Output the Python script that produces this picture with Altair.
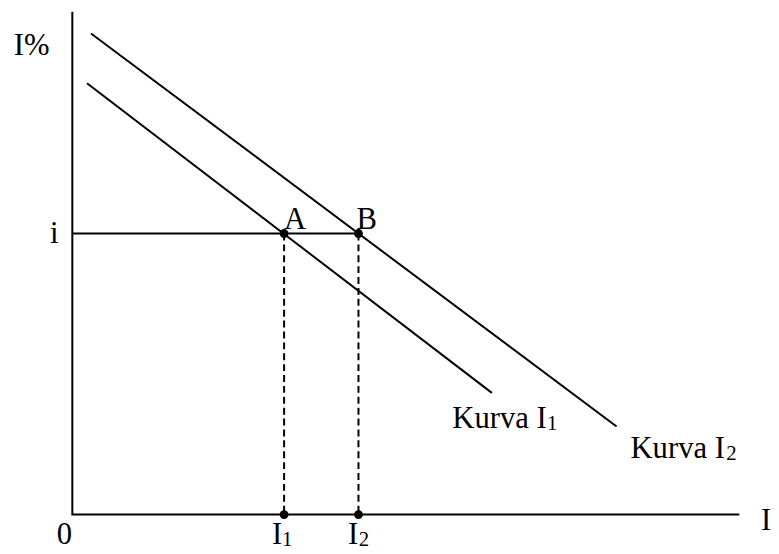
import altair as alt
import pandas as pd

# ---- data (chart units) ----
axis_max_x = 100
axis_max_y = 100
curve1_x = [2.2, 62.9]      # Kurva I1
curve1_y = [85.8, 24.2]
curve2_x = [2.8, 81.6]      # Kurva I2
curve2_y = [95.7, 17.5]
rate_i = 55.9               # interest level i
inv_levels = [31.75, 42.9]  # I1, I2
point_names = ["A", "B"]
inv_names = [("I", "1"), ("I", "2")]
curve_names = [("Kurva I", "1"), ("Kurva I", "2")]

FONT = "Liberation Serif"
FS = 31
SUB = 21
W, H = 771, 546

x_scale = alt.Scale(domain=[-9.644, 104.748], nice=False, zero=False)
y_scale = alt.Scale(domain=[-7.283, 100.197], nice=False, zero=False)


def enc(ch):
    return ch.encode(
        x=alt.X("x:Q", scale=x_scale, axis=None),
        y=alt.Y("y:Q", scale=y_scale, axis=None),
    )


layers = []

# axes
axes_df = pd.DataFrame({"x": [0, 0, axis_max_x], "y": [axis_max_y, 0, 0], "o": [0, 1, 2]})
layers.append(enc(alt.Chart(axes_df).mark_line(color="black", strokeWidth=2)).encode(order="o:Q"))

# demand curves
curves_df = pd.DataFrame({
    "x": curve1_x + curve2_x,
    "y": curve1_y + curve2_y,
    "seg": ["c1", "c1", "c2", "c2"],
    "o": [0, 1, 0, 1],
})
layers.append(enc(alt.Chart(curves_df).mark_line(color="black", strokeWidth=2)).encode(
    detail="seg:N", order="o:Q"))

# horizontal line at i
h_df = pd.DataFrame({"x": [0, inv_levels[1]], "y": [rate_i, rate_i], "o": [0, 1]})
layers.append(enc(alt.Chart(h_df).mark_line(color="black", strokeWidth=2)).encode(order="o:Q"))

# dashed verticals
v_df = pd.DataFrame({
    "x": [inv_levels[0], inv_levels[0], inv_levels[1], inv_levels[1]],
    "y": [rate_i, 0, rate_i, 0],
    "seg": ["v1", "v1", "v2", "v2"],
    "o": [0, 1, 0, 1],
})
layers.append(enc(alt.Chart(v_df).mark_line(color="black", strokeWidth=2, strokeDash=[7, 4])).encode(
    detail="seg:N", order="o:Q"))

# dots
pts_df = pd.DataFrame({
    "x": inv_levels + inv_levels,
    "y": [rate_i, rate_i, 0, 0],
})
layers.append(enc(alt.Chart(pts_df).mark_circle(color="black", size=80, opacity=1)))


def label(x, y, text, dx, dy, size=FS, align="left"):
    df = pd.DataFrame({"x": [x], "y": [y], "t": [text]})
    return enc(alt.Chart(df).mark_text(
        font=FONT, fontSize=size, color="black", align=align, baseline="alphabetic",
        dx=dx, dy=dy)).encode(text="t:N")


# axis labels
layers.append(label(0, axis_max_y, "I%", -23, 44, align="right"))
layers.append(label(0, rate_i, "i", -14, 10, align="right"))
layers.append(label(0, 0, "0", -8, 30, align="center"))
layers.append(label(axis_max_x, 0, "I", 22, 16))

# point labels
layers.append(label(inv_levels[0], rate_i, point_names[0], 0, -5))
layers.append(label(inv_levels[1], rate_i, point_names[1], -2, -5))

# I1, I2 under the x-axis
layers.append(label(inv_levels[0], 0, inv_names[0][0], -7, 30, align="center"))
layers.append(label(inv_levels[0], 0, inv_names[0][1], 3, 32, size=SUB, align="center"))
layers.append(label(inv_levels[1], 0, inv_names[1][0], -5.5, 30, align="center"))
layers.append(label(inv_levels[1], 0, inv_names[1][1], 5.5, 32, size=SUB, align="center"))

# curve labels
layers.append(label(curve1_x[1], curve1_y[1], curve_names[0][0], -40, 35))
layers.append(label(curve1_x[1], curve1_y[1], curve_names[0][1], 61, 37, size=SUB, align="center"))
layers.append(label(curve2_x[1], curve2_y[1], curve_names[1][0], 14, 32))
layers.append(label(curve2_x[1], curve2_y[1], curve_names[1][1], 116, 34, size=SUB, align="center"))

chart = alt.layer(*layers).properties(
    width=W, height=H,
    autosize=alt.AutoSizeParams(type="none"),
    padding=0,
).configure_view(stroke=None)

chart.save("out.html", embed_options={"renderer": "svg", "actions": False})
